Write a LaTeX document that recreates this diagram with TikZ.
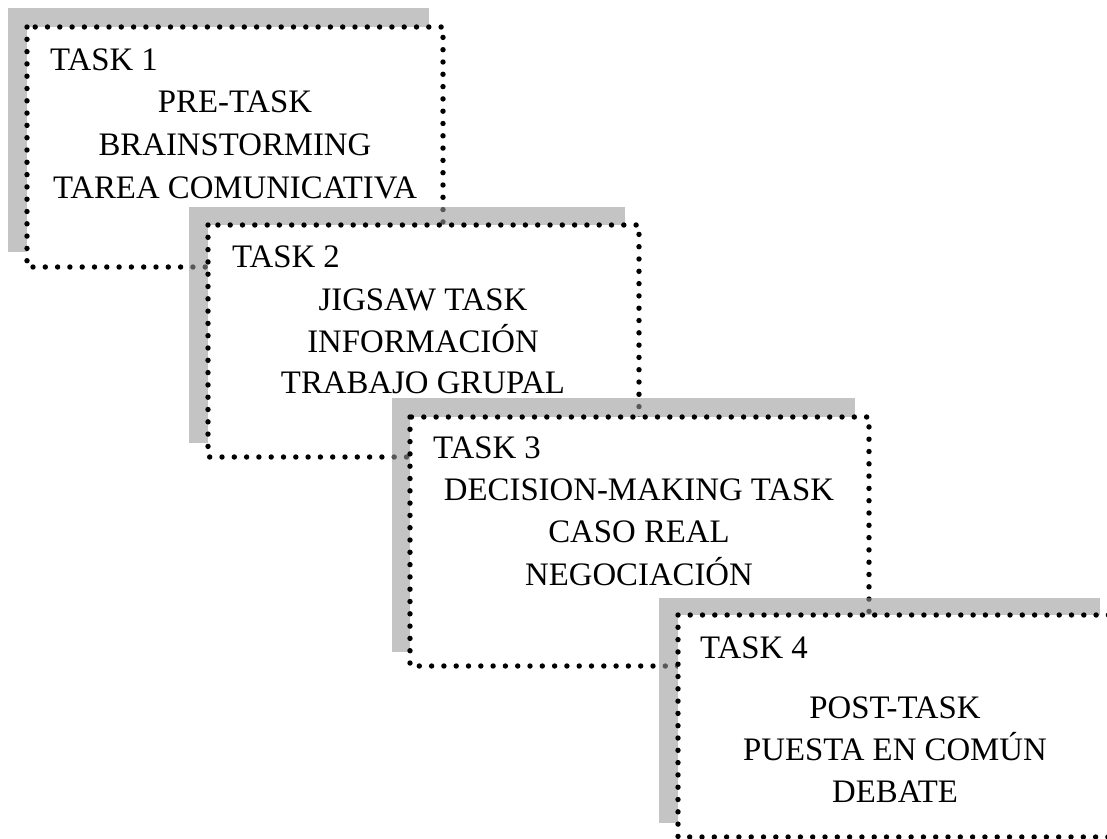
\documentclass[tikz,border=0pt]{standalone}
\usepackage{fontspec}
\setmainfont{Liberation Serif}
\begin{document}
\begin{tikzpicture}[x=1pt,y=-1pt,
  shadowbox/.style={fill=black!40,fill opacity=0.58,draw=none},
  whitebox/.style={fill=white,draw=none},
  dotbox/.style={draw=black,line width=5.4pt,line cap=round,dash pattern=on 0pt off 12.3pt},
  tasklbl/.style={anchor=base west,inner sep=0pt,font=\fontsize{32.8}{33}\selectfont},
  line/.style={anchor=base,inner sep=0pt,font=\fontsize{32.8}{33}\selectfont}]
\useasboundingbox (0,0) rectangle (1107,838);
\clip (0,0) rectangle (1107,838);
% Box 1
\fill[shadowbox] (8,8) rectangle (429,252);
\fill[whitebox] (27,27) rectangle (443,267);
\draw[dotbox] (27,27) rectangle (443,267);
\node[tasklbl] (t1) at (50,70) {TASK 1};
\node[line] (t1a) at (235,112) {PRE-TASK};
\node[line] (t1b) at (235,155) {BRAINSTORMING};
\node[line] (t1c) at (235,198) {TAREA COMUNICATIVA};
% Box 2
\fill[shadowbox] (189,207) rectangle (625,443);
\fill[whitebox] (208,225) rectangle (639,457);
\draw[dotbox] (208,225) rectangle (639,457);
\node[tasklbl] (t2) at (232,267) {TASK 2};
\node[line] (t2a) at (423,310) {JIGSAW TASK};
\node[line] (t2b) at (423,352) {INFORMACIÓN};
\node[line] (t2c) at (423,393) {TRABAJO GRUPAL};
% Box 3
\fill[shadowbox] (392,398) rectangle (855,652);
\fill[whitebox] (410,417) rectangle (869,666);
\draw[dotbox] (410,417) rectangle (869,666);
\node[tasklbl] (t3) at (433,458) {TASK 3};
\node[line] (t3a) at (639,500) {DECISION-MAKING TASK};
\node[line] (t3b) at (639,542) {CASO REAL};
\node[line] (t3c) at (639,585) {NEGOCIACIÓN};
% Box 4
\fill[shadowbox] (659,598) rectangle (1100,823);
\fill[whitebox] (678,615) rectangle (1114,837);
\draw[dotbox] (678,615) rectangle (1114,837);
\node[tasklbl] (t4) at (700,658) {TASK 4};
\node[line] (t4a) at (895,718) {POST-TASK};
\node[line] (t4b) at (895,760) {PUESTA EN COMÚN};
\node[line] (t4c) at (895,802) {DEBATE};
\end{tikzpicture}
\end{document}
